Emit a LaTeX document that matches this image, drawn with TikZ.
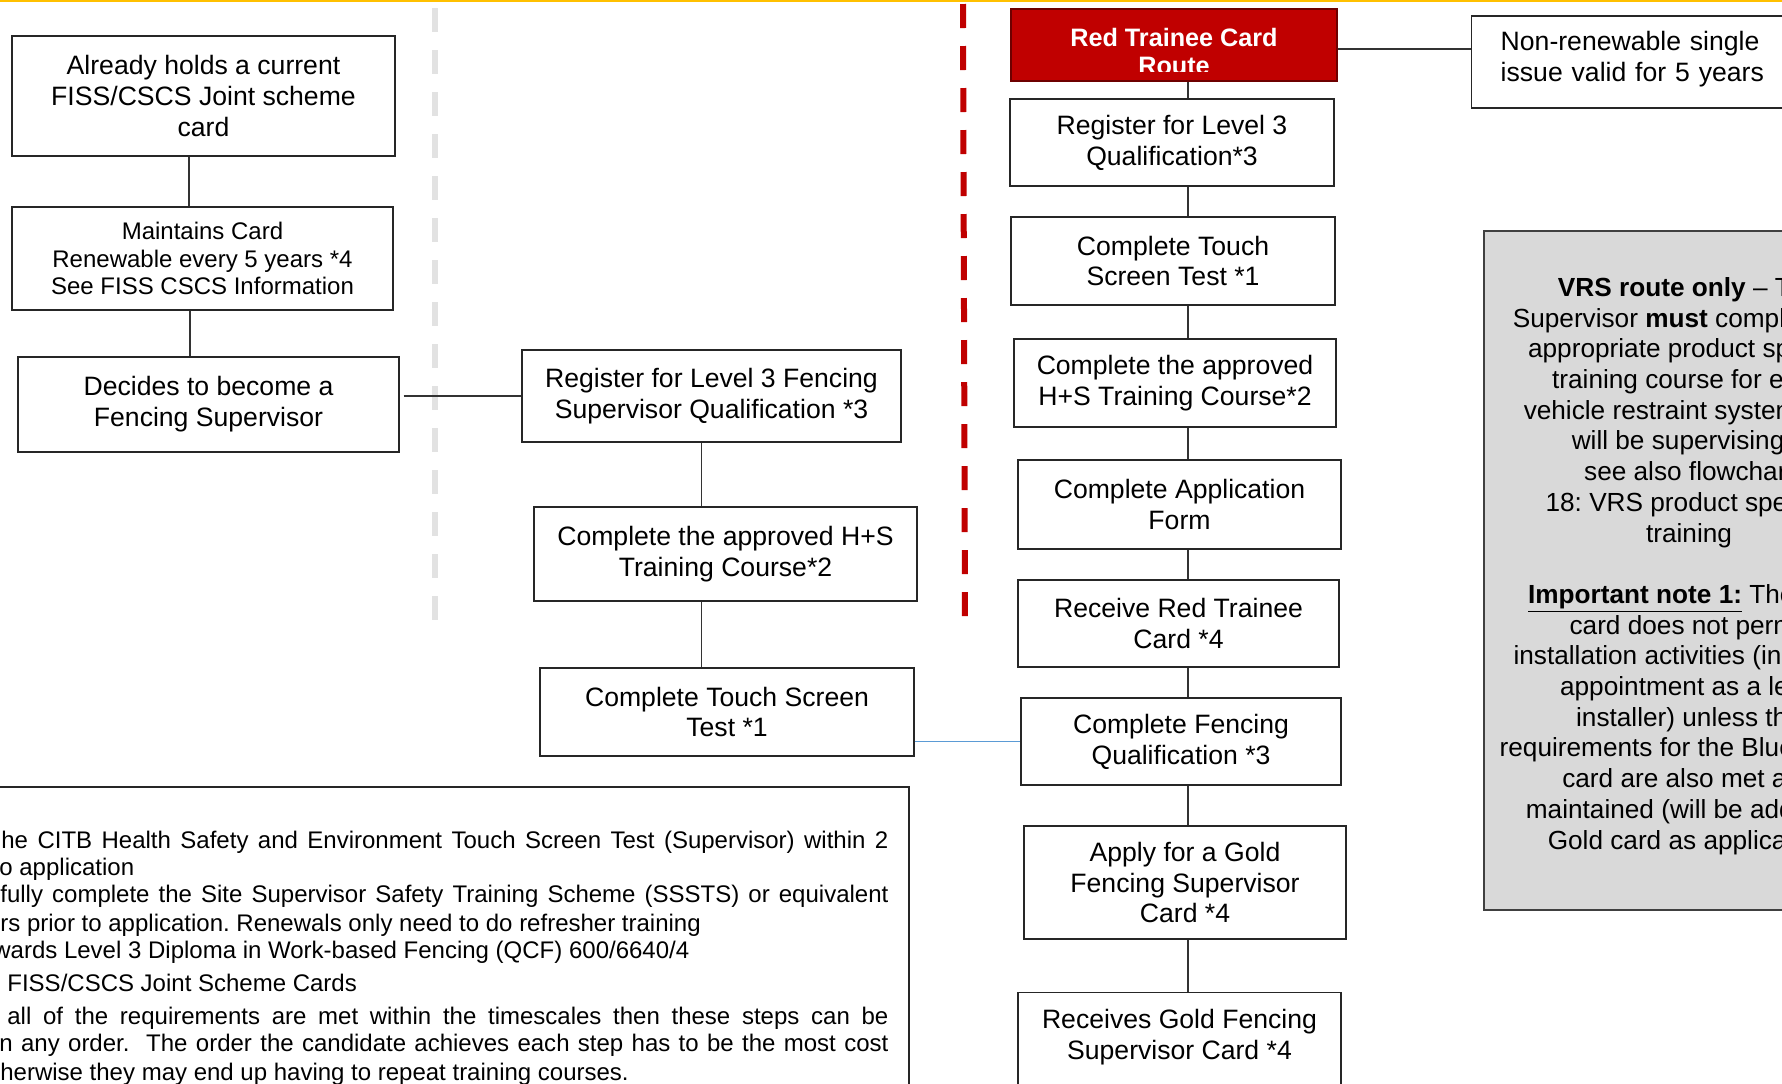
\documentclass[tikz,border=0pt]{standalone}
\usepackage{fontspec}
\setmainfont{Liberation Sans}
\usetikzlibrary{calc}
\definecolor{cardred}{RGB}{192,0,0}
\definecolor{cardredline}{RGB}{110,0,0}
\definecolor{topgold}{RGB}{255,192,0}
\definecolor{sepgrey}{RGB}{226,226,226}
\definecolor{linkblue}{RGB}{91,155,213}
\definecolor{panelgrey}{RGB}{217,217,217}
\newcommand\bxfont{\fontsize{13.3pt}{15.4pt}\selectfont}
\newcommand\smfont{\fontsize{12pt}{13.9pt}\selectfont}
\newcommand\hdfont{\fontsize{12.6pt}{14.3pt}\selectfont\bfseries}
\newcommand\pnfont{\fontsize{13.1pt}{15.35pt}\selectfont}
\frenchspacing
\begin{document}
\begin{tikzpicture}[x=0.5pt,y=-0.5pt,
  box/.style={draw=black!85, line width=0.7pt, align=center, inner sep=0pt, font=\bxfont},
  conn/.style={draw=black!80, line width=0.55pt},
  txt/.style={anchor=base west, inner sep=0pt, font=\smfont},
  sepline/.style={line width=3pt, dash pattern=on 12pt off 9pt},
]
\useasboundingbox (0,0) rectangle (1782,1083);
\clip (0,0) rectangle (1782,1083);
\fill[white] (0,0) rectangle (1782,1083);

% top rule
\draw[topgold, line width=1.25pt] (0,1) -- (1782,1);

% separators
\draw[sepline, sepgrey] (435,8) -- (435,622);
\draw[sepline, cardred] (963,4) -- (965,622);

% spines for connectors
\coordinate (lsp) at (189,0);
\coordinate (msp) at (701.5,0);
\coordinate (rsp) at (1188,0);

% left column
\node[box, minimum width=191.5pt, minimum height=60pt] (A) at (203.5,96) {Already holds a current\\FISS/CSCS Joint scheme\\card};
\node[box, font=\smfont, minimum width=190.5pt, minimum height=51.5pt] (B) at (202.5,258.5) {Maintains Card\\Renewable every 5 years *4\\See FISS CSCS Information};
\node[box, minimum width=190.5pt, minimum height=47.5pt] (C) at (208.5,404.5) {Decides to become a\\Fencing Supervisor};

% middle column
\node[box, minimum width=189.5pt, minimum height=46pt] (D) at (711.5,396) {Register for Level 3 Fencing\\Supervisor Qualification *3};
\node[box, minimum width=191.5pt, minimum height=47pt] (E) at (725.5,554) {Complete the approved H+S\\Training Course*2};
\node[box, minimum width=187pt, minimum height=44pt] (F) at (727,712) {Complete Touch Screen\\Test *1};

% right column
\node[draw=cardredline, fill=cardred, line width=0.7pt, minimum width=163pt, minimum height=36pt, inner sep=0pt,
  path picture={
    \clip ([yshift=5pt]path picture bounding box.south west) rectangle (path picture bounding box.north east);
    \node[text=white, font=\hdfont, align=center, inner sep=0pt] (R0t) at ([yshift=-3.2pt]path picture bounding box.center) {Red Trainee Card\\Route};
  }] (R0) at (1174,45) {};
\node[box, minimum width=162pt, minimum height=43.5pt] (R1) at (1172,142.5) {Register for Level 3\\Qualification*3};
\node[box, minimum width=162pt, minimum height=44pt] (R2) at (1173,261) {Complete Touch\\Screen Test *1};
\node[box, minimum width=161pt, minimum height=44pt] (R3) at (1175,383) {Complete the approved\\H+S Training Course*2};
\node[box, minimum width=161.5pt, minimum height=44.5pt] (R4) at (1179.5,504.5) {Complete Application\\Form};
\node[box, minimum width=160.5pt, minimum height=43.5pt] (R5) at (1178.5,623.5) {Receive Red Trainee\\Card *4};
\node[box, minimum width=160pt, minimum height=43.5pt] (R6) at (1181,741.5) {Complete Fencing\\Qualification *3};
\node[box, minimum width=161pt, minimum height=56.5pt] (R7) at (1185,882.5) {Apply for a Gold\\Fencing Supervisor\\Card *4};
\node[box, anchor=north, minimum width=161.5pt, inner ysep=8.5pt] (R8) at (1179.5,992)
  {\parbox[c][60pt][t]{155pt}{\centering Receives Gold Fencing\\Supervisor Card *4}};

% side note
\node[box, anchor=west, align=left, text width=171pt, inner xsep=14.5pt, inner ysep=0pt, minimum height=46pt] (NR) at (1471,62)
  {Non-renewable single\\issue valid for 5 years\vphantom{p}\\[-9.5pt]\mbox{}};

% grey panel
\node[draw=black!75, fill=panelgrey, line width=0.7pt, minimum width=205pt, minimum height=339.5pt, inner sep=0pt] (G) at (1689,570.5) {};
\node[align=center, inner sep=0pt, font=\pnfont] (Gt) at (1689,566)
  {\textbf{VRS route only} – The\\
   Supervisor \textbf{must} complete the\\
   appropriate product specific\\
   training course for each\\
   vehicle restraint system they\\
   will be supervising –\\
   see also flowchart\\
   18: VRS product specific\\
   training\\[15.35pt]
   \underline{\textbf{Important note 1:}} The Red\\
   card does not permit\\
   installation activities (including\\
   appointment as a lead\\
   installer) unless the\\
   requirements for the Blue Skilled\\
   card are also met and\\
   maintained (will be added to\\
   Gold card as applicable)};

% notes box
\node[draw=black!85, line width=0.7pt, minimum width=464.5pt, minimum height=161.5pt, inner sep=0pt] (notes) at (444.5,948.5) {};
\node[txt] (n1) at (1,848) {\hbox to 443.5pt{he CITB Health Safety and Environment Touch Screen Test (Supervisor) within 2}};
\node[txt] (n2) at (-1,875) {o application};
\node[txt] (n3) at (0,902) {\hbox to 444pt{fully complete the Site Supervisor Safety Training Scheme (SSSTS) or equivalent}};
\node[txt] (n4) at (0,931) {rs prior to application. Renewals only need to do refresher training};
\node[txt] (n5) at (-7,958) {wards Level 3 Diploma in Work-based Fencing (QCF) 600/6640/4};
\node[txt] (n6) at (7,991) {FISS/CSCS Joint Scheme Cards};
\node[txt] (n7) at (7,1024) {\hbox to 440.5pt{all of the requirements are met within the timescales then these steps can be}};
\node[txt] (n8) at (-1,1051) {\hbox to 444.5pt{n any order.\ \ The order the candidate achieves each step has to be the most cost}};
\node[txt] (n9) at (0,1080) {herwise they may end up having to repeat training courses.};

% connectors
\draw[conn] (A.south -| lsp) -- (B.north -| lsp);
\draw[conn] ([xshift=0.5pt]B.south -| lsp) -- ([xshift=0.5pt]C.north -| lsp);
\draw[conn] ([xshift=2pt]D.west -| C.east) -- (D.west);
\draw[conn] (D.south -| msp) -- (E.north -| msp);
\draw[conn] (E.south -| msp) -- (F.north -| msp);
\draw[draw=linkblue, line width=0.5pt] (R6.west -| F.east) -- (R6.west);
\draw[conn] ([yshift=-2pt]R0.east) -- ([yshift=-2pt]R0.east -| NR.west);
\draw[conn] (R0.south -| rsp) -- (R1.north -| rsp);
\draw[conn] (R1.south -| rsp) -- (R2.north -| rsp);
\draw[conn] (R2.south -| rsp) -- (R3.north -| rsp);
\draw[conn] (R3.south -| rsp) -- (R4.north -| rsp);
\draw[conn] (R4.south -| rsp) -- (R5.north -| rsp);
\draw[conn] (R5.south -| rsp) -- (R6.north -| rsp);
\draw[conn] (R6.south -| rsp) -- (R7.north -| rsp);
\draw[conn] (R7.south -| rsp) -- (R8.north -| rsp);
\end{tikzpicture}
\end{document}
